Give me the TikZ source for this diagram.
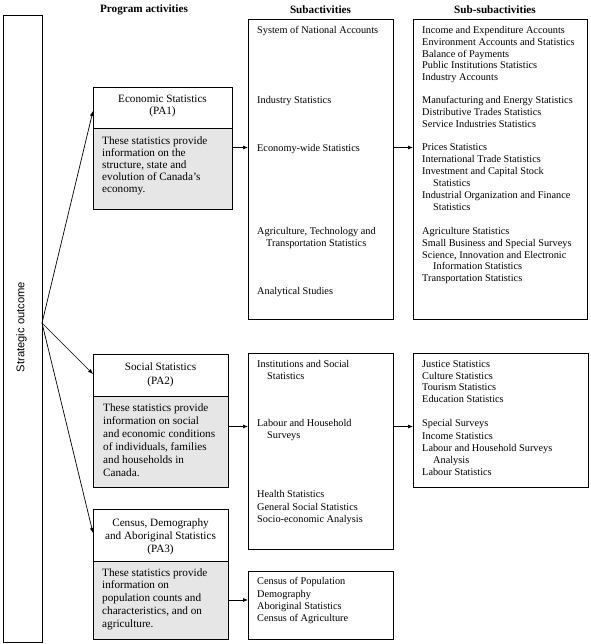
\documentclass[tikz,border=0pt]{standalone}
\usepackage{fontspec}
\setmainfont{Liberation Serif}
\setsansfont{Liberation Sans}
\usetikzlibrary{arrows.meta}
\definecolor{descgray}{RGB}{230,230,230}
\begin{document}
\begin{tikzpicture}[x=1pt,y=-1pt,
  box/.style={draw, line width=0.8pt, inner sep=0pt, anchor=north west},
  subtxt/.style={anchor=north west, inner sep=0pt, align=left, font=\fontsize{10.3}{12}\selectfont},
  patxt/.style={anchor=north west, inner sep=0pt, align=left},
  patitle/.style={anchor=north, inner sep=0pt, align=center},
  head/.style={inner sep=0pt, font=\fontsize{11.2}{13}\selectfont\bfseries},
  arr/.style={line width=0.7pt, -{Latex[length=5pt,width=4pt]}}]
\useasboundingbox (0,0) rectangle (590,644);

% headers
\node[head] (h1) at (144,10) {Program activities};
\node[head] (h2) at (320.5,10) {Subactivities};
\node[head] (h3) at (495,10) {Sub-subactivities};

% strategic outcome
\node[box, minimum width=39pt, minimum height=627pt] (so) at (3,15) {};
\node[inner sep=0pt, rotate=90, font=\sffamily\fontsize{11.2}{13}\selectfont] (sotext) at (21.5,327) {Strategic outcome};

% program activity boxes
\node[box, minimum width=139pt, minimum height=41pt] (pa1t) at (93,87) {};
\node[box, fill=descgray, minimum width=139pt, minimum height=81pt] (pa1b) at (93,128) {};
\node[box, minimum width=135pt, minimum height=42pt] (pa2t) at (93,354) {};
\node[box, fill=descgray, minimum width=135pt, minimum height=91pt] (pa2b) at (93,396) {};
\node[box, minimum width=135pt, minimum height=52pt] (pa3t) at (93,509) {};
\node[box, fill=descgray, minimum width=135pt, minimum height=78pt] (pa3b) at (93,561) {};

% subactivity boxes
\node[box, minimum width=145pt, minimum height=300pt] (sub1) at (248,19) {};
\node[box, minimum width=174pt, minimum height=300pt] (ss1) at (413,19) {};
\node[box, minimum width=145pt, minimum height=196pt] (sub2) at (248,353) {};
\node[box, minimum width=175pt, minimum height=134pt] (ss2) at (413,353) {};
\node[box, minimum width=145pt, minimum height=68pt] (sub3) at (248,571) {};

% program activity texts
\node[patitle, font=\fontsize{11.2}{12}\selectfont] (pa1title) at (162.5,94) {\strut Economic Statistics\\(PA1)};
\node[patxt, font=\fontsize{11.2}{12}\selectfont] (pa1desc) at (102,135.5) {\strut These statistics provide\\information on the\\structure, state and\\evolution of Canada’s\\economy.};
\node[patitle, font=\fontsize{11.2}{14}\selectfont] (pa2title) at (160.5,360.5) {\strut Social Statistics\\(PA2)};
\node[patxt, font=\fontsize{11.2}{13}\selectfont] (pa2desc) at (103,401.8) {\strut These statistics provide\\information on social\\and economic conditions\\of individuals, families\\and households in\\Canada.};
\node[patitle, font=\fontsize{11.2}{13}\selectfont] (pa3title) at (160.5,517) {\strut Census, Demography\\and Aboriginal Statistics\\(PA3)};
\node[patxt, font=\fontsize{11.2}{12.75}\selectfont] (pa3desc) at (102,567) {\strut These statistics provide\\information on\\population counts and\\characteristics, and on\\agriculture.};

% subactivity texts (economic)
\node[subtxt] (s1a) at (257,25.1) {\strut System of National Accounts};
\node[subtxt] (s1b) at (257,95.1) {\strut Industry Statistics};
\node[subtxt] (s1c) at (257,143.1) {\strut Economy-wide Statistics};
\node[subtxt] (s1d) at (257,226.1) {\strut Agriculture, Technology and\\\hspace*{9pt}Transportation Statistics};
\node[subtxt] (s1e) at (257,286.1) {\strut Analytical Studies};

% sub-subactivity texts (economic)
\node[subtxt, font=\fontsize{10.3}{11.8}\selectfont] (ss1a) at (422,25.1) {\strut Income and Expenditure Accounts\\Environment Accounts and Statistics\\Balance of Payments\\Public Institutions Statistics\\Industry Accounts};
\node[subtxt] (ss1b) at (422,95.1) {\strut Manufacturing and Energy Statistics\\Distributive Trades Statistics\\Service Industries Statistics};
\node[subtxt] (ss1c) at (422,142.1) {\strut Prices Statistics\\International Trade Statistics\\Investment and Capital Stock\\\hspace*{11pt}Statistics\\Industrial Organization and Finance\\\hspace*{11pt}Statistics};
\node[subtxt, font=\fontsize{10.3}{11.8}\selectfont] (ss1d) at (422,226.1) {\strut Agriculture Statistics\\Small Business and Special Surveys\\Science, Innovation and Electronic\\\hspace*{11pt}Information Statistics\\Transportation Statistics};

% subactivity texts (social)
\node[subtxt] (s2a) at (257,359.1) {\strut Institutions and Social\\\hspace*{10pt}Statistics};
\node[subtxt] (s2b) at (257,418.1) {\strut Labour and Household\\\hspace*{10pt}Surveys};
\node[subtxt, font=\fontsize{10.3}{12.4}\selectfont] (s2c) at (257,489.1) {\strut Health Statistics\\General Social Statistics\\Socio-economic Analysis};

% sub-subactivity texts (social)
\node[subtxt, font=\fontsize{10.3}{11.7}\selectfont] (ss2a) at (422,359.1) {\strut Justice Statistics\\Culture Statistics\\Tourism Statistics\\Education Statistics};
\node[subtxt, font=\fontsize{10.3}{12.2}\selectfont] (ss2b) at (422,418.1) {\strut Special Surveys\\Income Statistics\\Labour and Household Surveys\\\hspace*{11pt}Analysis\\Labour Statistics};

% subactivity texts (census)
\node[subtxt, font=\fontsize{10.3}{12.3}\selectfont] (s3a) at (257,576.1) {\strut Census of Population\\Demography\\Aboriginal Statistics\\Census of Agriculture};

% connectors
\coordinate (hub) at (42,323);
\coordinate (ya) at (0,111);
\coordinate (yb) at (0,374);
\coordinate (yc) at (0,533);
\coordinate (yd) at (0,147.5);
\coordinate (ye) at (0,426.5);
\coordinate (yf) at (0,600);
\draw[arr] (hub) -- (pa1t.west |- ya);
\draw[arr] (hub) -- (pa2t.west |- yb);
\draw[arr] (hub) -- (pa3t.west |- yc);
\draw[arr] (pa1b.east |- yd) -- (sub1.west |- yd);
\draw[arr] (sub1.east |- yd) -- (ss1.west |- yd);
\draw[arr] (pa2b.east |- ye) -- (sub2.west |- ye);
\draw[arr] (sub2.east |- ye) -- (ss2.west |- ye);
\draw[arr] (pa3b.east |- yf) -- (sub3.west |- yf);
\end{tikzpicture}
\end{document}
